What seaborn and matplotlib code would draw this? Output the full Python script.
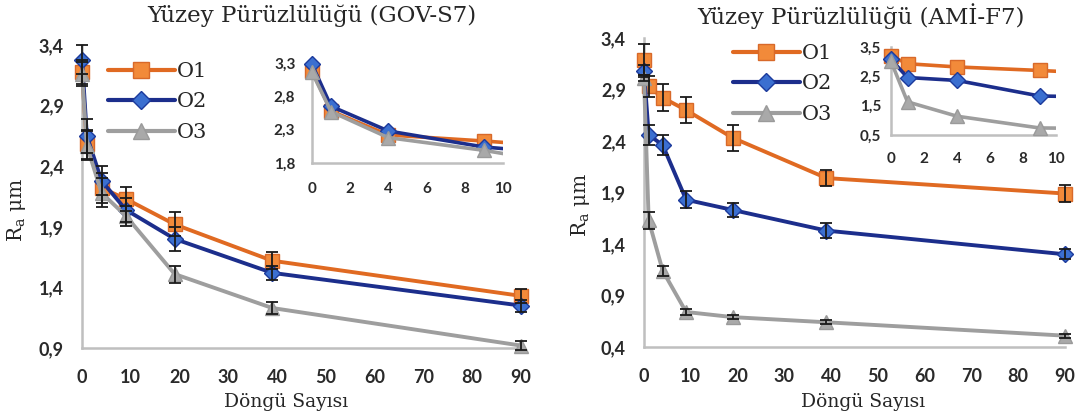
import matplotlib
matplotlib.use("Agg")
import matplotlib.pyplot as plt
import seaborn as sns
import pandas as pd
import numpy as np
from matplotlib.transforms import Bbox, TransformedBbox

# ---------------- data ----------------
cycles = [0, 1, 4, 9, 19, 39, 90]
series_names = ["O1", "O2", "O3"]

gov_O1 = [3.18, 2.58, 2.22, 2.13, 1.92, 1.62, 1.33]
gov_O2 = [3.28, 2.65, 2.28, 2.04, 1.80, 1.52, 1.25]
gov_O3 = [3.16, 2.57, 2.18, 1.99, 1.51, 1.23, 0.92]
gov_O1_err = [0.10, 0.12, 0.12, 0.10, 0.10, 0.07, 0.06]
gov_O2_err = [0.12, 0.14, 0.12, 0.10, 0.10, 0.06, 0.05]
gov_O3_err = [0.10, 0.12, 0.12, 0.08, 0.07, 0.05, 0.04]

ami_O1 = [3.19, 2.93, 2.82, 2.70, 2.43, 2.04, 1.89]
ami_O2 = [3.08, 2.46, 2.36, 1.83, 1.73, 1.53, 1.30]
ami_O3 = [3.01, 1.63, 1.14, 0.74, 0.69, 0.64, 0.51]
ami_O1_err = [0.15, 0.10, 0.13, 0.13, 0.13, 0.08, 0.08]
ami_O2_err = [0.06, 0.10, 0.10, 0.08, 0.07, 0.07, 0.05]
ami_O3_err = [0.03, 0.08, 0.05, 0.03, 0.02, 0.02, 0.02]

titles = ["Yüzey Pürüzlülüğü (GOV-S7)", "Yüzey Pürüzlülüğü (AMİ-F7)"]
xlabel = "Döngü Sayısı"
ylabel = r"R$_{\mathregular{a}}$ μm"

main_xticks = [0, 10, 20, 30, 40, 50, 60, 70, 80, 90]
gov_yticks = [0.9, 1.4, 1.9, 2.4, 2.9, 3.4]
ami_yticks = [0.4, 0.9, 1.4, 1.9, 2.4, 2.9, 3.4]
inset_xticks = [0, 2, 4, 6, 8, 10]
gov_inset_yticks = [1.8, 2.3, 2.8, 3.3]
ami_inset_yticks = [0.5, 1.5, 2.5, 3.5]

# ---------------- style ----------------
sns.set_theme(style="white")
plt.rcParams["font.family"] = ["DejaVu Serif"]

line_col = {"O1": "#E06A22", "O2": "#1C2E8C", "O3": "#9E9E9E"}
mark_face = {"O1": "#F28A3A", "O2": "#3B6FD0", "O3": "#A9A9A9"}
mark_edge = {"O1": "#D8692A", "O2": "#1C3A9C", "O3": "#9A9A9A"}
markers = {"O1": "s", "O2": "D", "O3": "^"}
msize = {"O1": 10, "O2": 8, "O3": 10}
spine_col = "#BFBFBF"

fig = plt.figure(figsize=(10.88, 4.18), dpi=100)


def fmt(v):
    s = f"{v:g}"
    return s.replace(".", ",")


def style_axes(ax, xticks, yticks, xlim, ylim, fsize, xpad, ypad):
    ax.set_xlim(*xlim)
    ax.set_ylim(*ylim)
    ax.set_xticks(xticks)
    ax.set_yticks(yticks)
    ax.set_xticklabels([fmt(t) for t in xticks], fontfamily="Lato",
                       fontweight="bold", fontsize=fsize, color="#2a2a2a")
    ax.set_yticklabels([fmt(t) for t in yticks], fontfamily="Lato",
                       fontweight="bold", fontsize=fsize, color="#2a2a2a")
    ax.tick_params(axis="x", length=0, pad=xpad)
    ax.tick_params(axis="y", length=0, pad=ypad)
    for s in ["top", "right"]:
        ax.spines[s].set_visible(False)
    for s in ["left", "bottom"]:
        ax.spines[s].set_color(spine_col)
        ax.spines[s].set_linewidth(1.8)
    ax.set_xlabel("")
    ax.set_ylabel("")
    ax.grid(False)


def draw_series(ax, data, errs=None, lw=2.6, clip=False):
    for name in series_names:
        df = pd.DataFrame({"x": cycles, "y": data[name]})
        sns.lineplot(data=df, x="x", y="y", ax=ax, color=line_col[name],
                     marker=markers[name], markersize=msize[name],
                     markerfacecolor=mark_face[name],
                     markeredgecolor=mark_edge[name], markeredgewidth=1.0,
                     linewidth=lw, legend=False, zorder=3, label=name)
        if errs is not None:
            ax.errorbar(cycles, data[name], yerr=errs[name], fmt="none",
                        ecolor="#1a1a1a", elinewidth=1.3, capsize=4,
                        capthick=1.3, zorder=4, clip_on=False)
    for ln in ax.lines:
        if clip:
            ln.set_clip_box(TransformedBbox(Bbox([[-0.06, -0.15], [1.0, 1.15]]),
                                            ax.transAxes))
        else:
            ln.set_clip_on(False)


panels = [
    dict(data={"O1": gov_O1, "O2": gov_O2, "O3": gov_O3},
         errs={"O1": gov_O1_err, "O2": gov_O2_err, "O3": gov_O3_err},
         main=[82 / 1088, 1 - 348 / 418, (521 - 82) / 1088, (348 - 45) / 418],
         ylim=(0.9, 3.4), yticks=gov_yticks,
         inset=[312 / 1088, 1 - 163 / 418, (503 - 312) / 1088, (163 - 63) / 418],
         iylim=(1.8, 3.3), iyticks=gov_inset_yticks, iypad=12, ixpad=14,
         title_x=312 / 1088, xlabel_x=286 / 1088, ylabel_x=17 / 1088, ylabel_y=1 - 210 / 418,
         legend_anchor=(108 / 1088, 1 - 62 / 418)),
    dict(data={"O1": ami_O1, "O2": ami_O2, "O3": ami_O3},
         errs={"O1": ami_O1_err, "O2": ami_O2_err, "O3": ami_O3_err},
         main=[644 / 1088, 1 - 347 / 418, (1065 - 644) / 1088, (347 - 38) / 418],
         ylim=(0.4, 3.4), yticks=ami_yticks,
         inset=[891 / 1088, 1 - 135 / 418, (1056 - 891) / 1088, (135 - 47) / 418],
         iylim=(0.5, 3.5), iyticks=ami_inset_yticks, iypad=7, ixpad=12,
         title_x=861 / 1088, xlabel_x=863 / 1088, ylabel_x=580 / 1088, ylabel_y=1 - 205 / 418,
         legend_anchor=(733 / 1088, 1 - 44 / 418)),
]

for i, p in enumerate(panels):
    ax = fig.add_axes(p["main"])
    draw_series(ax, p["data"], p["errs"], lw=2.8)
    style_axes(ax, main_xticks, p["yticks"], (0, 90), p["ylim"], 13,
               xpad=15, ypad=13)

    handles = [plt.Line2D([], [], color=line_col[n], marker=markers[n],
                          markersize=msize[n] + 1, markerfacecolor=mark_face[n],
                          markeredgecolor=mark_edge[n], linewidth=3.0)
               for n in series_names]
    fig.legend(handles, series_names, loc="upper left",
               bbox_to_anchor=p["legend_anchor"], frameon=False,
               prop=dict(family="DejaVu Serif", size=15),
               handlelength=3.2, handletextpad=0.1, labelspacing=0.55,
               borderaxespad=0, borderpad=0)

    iax = fig.add_axes(p["inset"])
    iax.set_facecolor("none")
    draw_series(iax, p["data"], None, lw=2.6, clip=True)
    style_axes(iax, inset_xticks, p["iyticks"], (0, 10), p["iylim"], 11,
               xpad=p["ixpad"], ypad=p["iypad"])

    fig.text(p["title_x"], 1 - 16 / 418, titles[i], ha="center", va="center",
             fontsize=16.5, family="DejaVu Serif", color="#262626")
    fig.text(p["xlabel_x"], 1 - 407 / 418, xlabel, ha="center", va="baseline",
             fontsize=13.5, family="DejaVu Serif", color="#262626")
    fig.text(p["ylabel_x"], p["ylabel_y"], ylabel, ha="center", va="center",
             rotation=90, fontsize=14.5, family="DejaVu Serif", color="#262626")

fig.savefig("out.png", dpi=100)
